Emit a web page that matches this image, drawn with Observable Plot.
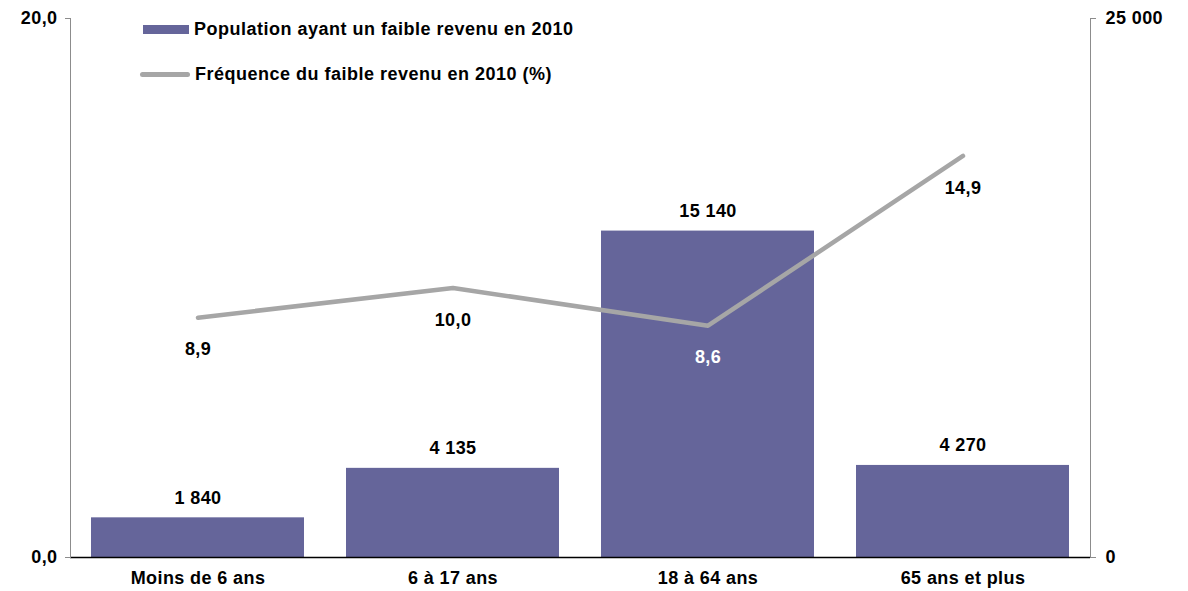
<!DOCTYPE html>
<html>
<head>
<meta charset="utf-8">
<script src="https://cdn.jsdelivr.net/npm/d3@7"></script>
<script src="https://cdn.jsdelivr.net/npm/@observablehq/plot@0.6"></script>
<style>
  body { margin: 0; background: #fff; }
  #chart { position: relative; width: 1188px; height: 591px; font-family: "Liberation Sans", Arial, sans-serif; font-weight: bold; }
  #chart svg { position: absolute; left: 0; top: 0; }
  #chart svg text { letter-spacing: 0.4px; }
  .legend { position: absolute; font-size: 18px; letter-spacing: 0.5px; color: #000; display: flex; align-items: center; }
  .legend .sw { display: inline-block; margin-right: 5px; }
</style>
</head>
<body>
<div id="chart"></div>
<script>
const categories = ["Moins de 6 ans", "6 à 17 ans", "18 à 64 ans", "65 ans et plus"];
const population = [1840, 4135, 15140, 4270];
const frequence = [8.9, 10.0, 8.6, 14.9];
const leftTicks = [0, 20];
const rightTicks = [0, 25000];
const seriesNames = ["Population ayant un faible revenu en 2010", "Fréquence du faible revenu en 2010 (%)"];
const barColor = "#65659a";
const lineColor = "#a6a6a6";

const loc = d3.formatLocale({decimal: ",", thousands: " ", grouping: [3], currency: ["", " €"]});
const fmtInt = loc.format(",d");
const fmt1 = loc.format(".1f");

const rows = categories.map((c, i) => ({cat: c, pop: population[i], freq: frequence[i]}));

const W = 1188, H = 591;
const FS = 18;
const common = {
  width: W, height: H,
  marginLeft: 70, marginRight: 98, marginTop: 18, marginBottom: 34,
  style: {fontFamily: '"Liberation Sans", Arial, sans-serif', fontSize: FS + "px", fontWeight: "bold", background: "transparent", color: "#000", overflow: "visible"}
};
const xScale = {type: "band", domain: categories, paddingInner: 0.165, paddingOuter: 0.0825, align: 0.5};

const barPlot = Plot.plot({
  ...common,
  x: {...xScale, label: null},
  y: {domain: [0, 25000], label: null},
  marks: [
    Plot.barY(rows, {x: "cat", y: "pop", fill: barColor}),
    Plot.text(rows, {x: "cat", y: "pop", text: d => fmtInt(d.pop), dy: -20, fill: "#000", fontSize: FS, fontWeight: "bold"}),
    Plot.frame({anchor: "right", stroke: "#8c8c8c"}),
    Plot.axisY({anchor: "right", ticks: rightTicks, tickFormat: d => fmtInt(d), tickSize: 5, tickPadding: 10, stroke: "#8c8c8c", label: null, fontSize: FS}),
    Plot.axisX({anchor: "bottom", tickSize: 0, tickPadding: 14, label: null, fontSize: FS}),
    Plot.ruleY([0], {stroke: "#000", strokeWidth: 1.5})
  ]
});

const linePlot = Plot.plot({
  ...common,
  x: {...xScale, axis: null},
  y: {domain: [0, 20], label: null},
  marks: [
    Plot.frame({anchor: "left", stroke: "#8c8c8c"}),
    Plot.axisY({anchor: "left", ticks: leftTicks, tickFormat: d => fmt1(d), tickSize: 5, tickPadding: 8, stroke: "#8c8c8c", label: null, fontSize: FS}),
    Plot.line(rows, {x: "cat", y: "freq", stroke: lineColor, strokeWidth: 4.5}),
    Plot.text(rows, {x: "cat", y: "freq", text: d => fmt1(d.freq), dy: 32, fill: d => (d.freq * 25000 / 20 < d.pop ? "#fff" : "#000"), fontSize: FS, fontWeight: "bold"})
  ]
});

const chart = document.getElementById("chart");
chart.appendChild(barPlot);
chart.appendChild(linePlot);

const lg1 = document.createElement("div");
lg1.className = "legend";
lg1.style.left = "143px"; lg1.style.top = "19px";
lg1.innerHTML = `<span class="sw" style="width:46px;height:9px;background:${barColor}"></span><span>${seriesNames[0]}</span>`;
chart.appendChild(lg1);

const lg2 = document.createElement("div");
lg2.className = "legend";
lg2.style.left = "140px"; lg2.style.top = "64px";
lg2.innerHTML = `<span class="sw" style="width:50px;height:5px;border-radius:3px;background:${lineColor}"></span><span>${seriesNames[1]}</span>`;
chart.appendChild(lg2);
</script>
</body>
</html>
